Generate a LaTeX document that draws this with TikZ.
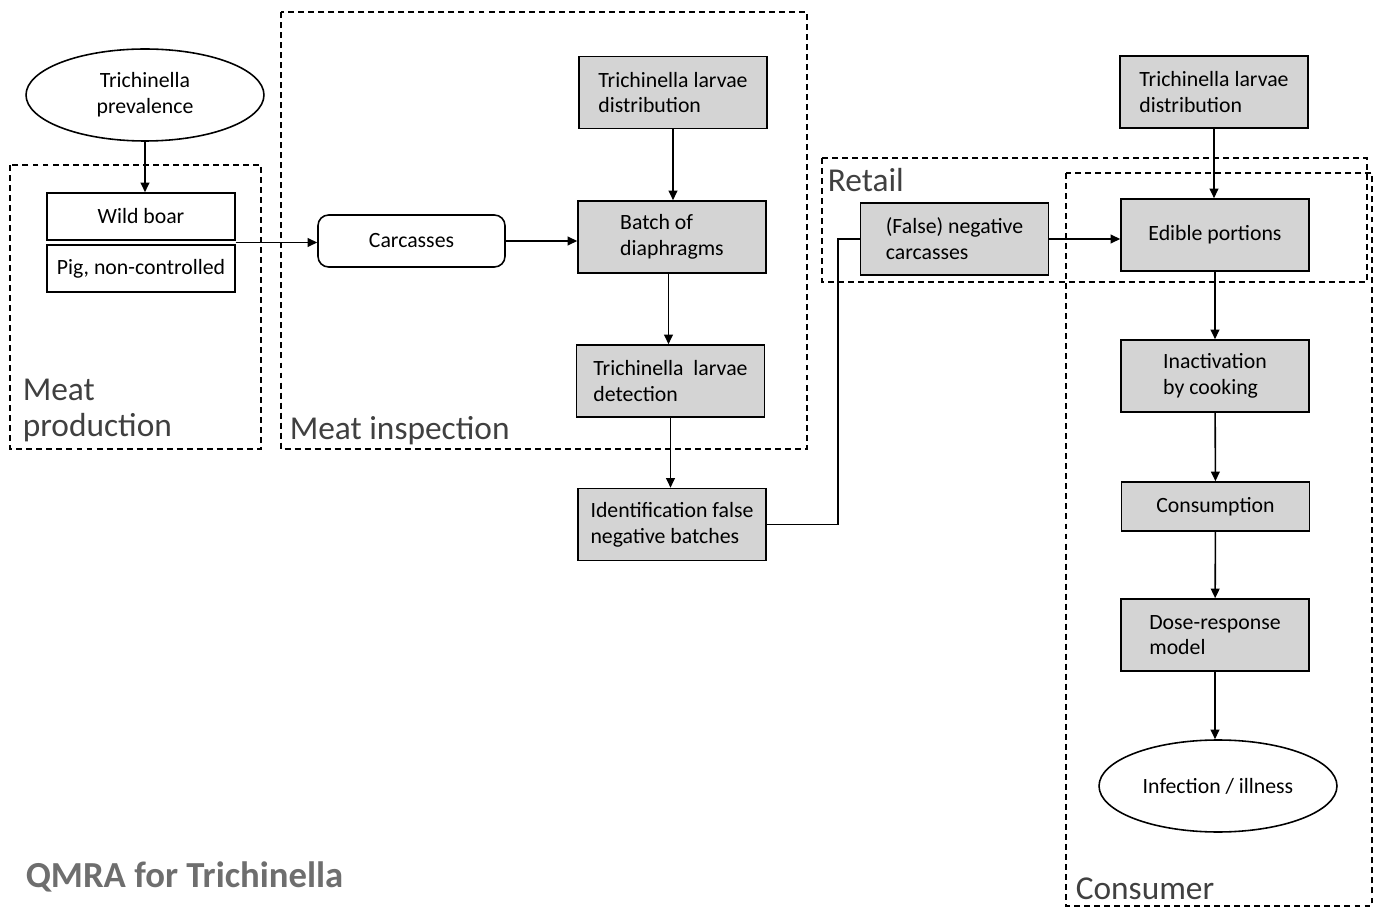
\documentclass[tikz,border=0pt]{standalone}
\usepackage{fontspec}
\setmainfont{Carlito}
\usetikzlibrary{shapes.geometric,calc,arrows.meta}
\definecolor{boxgray}{HTML}{D4D4D4}
\definecolor{labelgray}{HTML}{404040}
\definecolor{titlegray}{HTML}{6E6E6E}

\begin{document}
\begin{tikzpicture}[x=0.02cm,y=-0.02cm,->,>={Triangle[length=5.5pt,width=5pt]},line width=0.9pt,
    box node/.style={rectangle,draw,fill=boxgray,minimum width=3.76cm,minimum height=1.44cm,align=left,font=\fontsize{12.4}{14.7}\selectfont},
    plain node/.style={rectangle,draw,minimum width=3.76cm,minimum height=0.94cm,font=\fontsize{12.4}{14.7}\selectfont},
    end node/.style={ellipse,draw,minimum width=4.76cm,minimum height=1.84cm,align=center,font=\fontsize{12.4}{14.7}\selectfont},
    stage/.style={-,draw,dashed,dash pattern=on 3.4pt off 2.3pt,line width=0.8pt},
    stage label/.style={text=labelgray,inner sep=0pt,align=left,font=\fontsize{19}{20.6}\selectfont}]
    \useasboundingbox (0,0) rectangle (1376,908);

    % stages
    \draw[stage] (10,165) rectangle (261,449);
    \draw[stage] (281,12) rectangle (807,449);
    \draw[stage] (822,158) rectangle (1367,282);
    \draw[stage] (1066,173) rectangle (1372,906);

    \node[stage label,anchor=north west] (lprod) at (22,378) {Meat\\production};
    \node[stage label,anchor=base west] (linsp) at (289,440) {Meat inspection};
    \node[stage label,anchor=base west] (lret) at (827,192) {Retail};
    \node[stage label,anchor=base west] (lcons) at (1075,899) {Consumer};
    \node[anchor=west,inner sep=0pt,text=titlegray,font=\fontsize{20.9}{24}\selectfont\bfseries] (title) at (25,877) {QMRA for Trichinella};

    % nodes
    \node[end node] (prev) at (145,95) {Trichinella\\prevalence};
    \node[plain node] (boar) at (141,216.5) {Wild boar};
    \node[plain node] (pig) at (141,268.5) {Pig, non-controlled};
    \node[plain node,rounded corners=6pt,minimum width=3.74cm,minimum height=1.04cm] (carc) at (411.5,241) {Carcasses};
    \node[box node] (distA) at (673,92.5) {Trichinella larvae\\distribution};
    \node[box node] (batch) at (672,237) {Batch of\\diaphragms};
    \node[box node] (detect) at (670.5,381) {Trichinella~ larvae\\detection};
    \node[box node] (ident) at (672,524.5) {Identification false\\negative batches};
    \node[box node] (falseneg) at (954.5,239) {(False) negative\\carcasses};
    \node[box node] (distB) at (1214,92) {Trichinella larvae\\distribution};
    \node[box node] (edible) at (1215,235) {Edible portions};
    \node[box node] (inact) at (1215,376) {Inactivation\\by cooking};
    \node[box node,minimum height=0.98cm] (consum) at (1215.5,506.5) {Consumption};
    \node[box node] (dose) at (1215,635) {Dose-response\\model};
    \node[end node] (infect) at (1218,786) {Infection / illness};

    % flow
    \coordinate (join) at ($(boar.south east)!0.5!(pig.north east)$);
    \draw (prev.south) -- (prev.south |- boar.north);
    \draw (join) -- (join -| carc.west);
    \draw (carc.east) -- (carc.east -| batch.west);
    \draw (distA.south) -- (distA.south |- batch.north);
    \draw ([xshift=-2]batch.south) -- ([xshift=-2]batch.south |- detect.north);
    \draw (detect.south) -- (detect.south |- ident.north);
    \draw[-] (ident.east) -- ++(71,0) |- (falseneg.west);
    \draw (falseneg.east) -- (falseneg.east -| edible.west);
    \draw (distB.south) -- (distB.south |- edible.north);
    \draw (edible) -- (inact);
    \draw (inact) -- (consum);
    \draw (consum) -- (dose);
    \draw (dose.south) -- (dose.south |- infect.north);
\end{tikzpicture}
\end{document}
